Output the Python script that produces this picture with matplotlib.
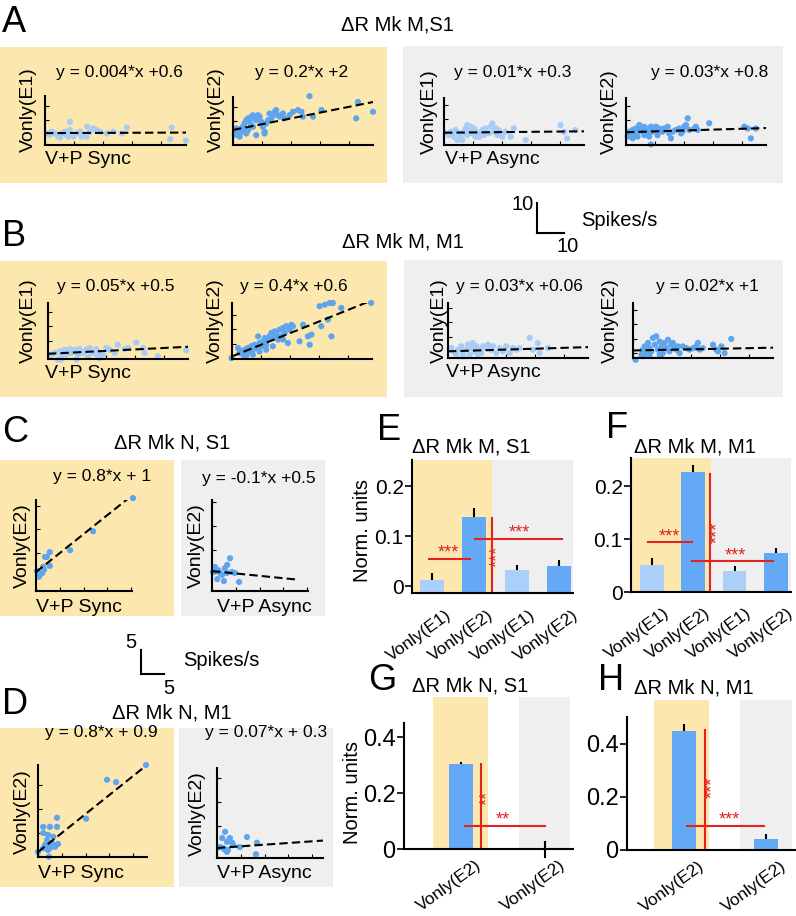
import numpy as np
import matplotlib.pyplot as plt
from matplotlib.patches import Rectangle
from matplotlib.lines import Line2D
from matplotlib.ticker import MultipleLocator
from matplotlib.transforms import ScaledTranslation

plt.rcParams['font.family'] = ['Liberation Sans', 'DejaVu Sans']

W, H = 796, 916
YELLOW = '#FCE8AE'
GREY = '#EFEFEF'
LIGHT = '#A8CCF5'
DARK = '#5EA5EE'
BAR_LIGHT = '#AAD0F9'
BAR_DARK = '#63A9F6'
RED = '#E3231F'

# ---- scatter data (spikes/s) ----
a1_x = [0.6, 1.7, 3.4, 4.6, 5.7, 6.9, 7.5, 8.6, 8.6, 9.8, 10.9, 12.1, 13.8, 14.6, 15.5, 16.7, 17.8, 19.0, 21.3, 23.6,
        26.4, 28.2, 14.4, 5.2, 43.7, 43.1, 48.6, 2.3, 12.6, 8.0]
a1_y = [0.5, 0.0, 0.5, -0.6, 0.5, 1.1, -0.1, 4.5, 1.7, -0.6, 0.5, 1.1, -0.1, 2.8, 1.1, 2.2, 1.7, 1.1, 0.5, 1.1,
        0.5, 2.5, -0.6, -0.9, 2.5, -1.5, -2.0, 1.1, -0.6, -0.6]
a2_x = [0.6, 1.1, 1.7, 2.3, 2.9, 3.4, 4.0, 4.6, 5.2, 5.7, 6.3, 6.9, 7.5, 8.0, 8.6, 9.2, 9.8, 10.3, 10.9, 11.5,
        12.1, 12.6, 13.2, 13.8, 14.4, 14.9, 15.5, 16.1, 17.2, 17.8, 19.5, 20.7, 22.4, 23.6, 24.1, 26.4, 27.6, 30.5,
        43.1, 42.5, 48.3, 2.3, 4.6, 6.9, 8.0, 10.9, 1.1, 3.4, 5.2, 6.3]
a2_y = [0.3, 1.4, 0.8, 2.0, 2.5, 3.1, 4.3, 5.4, 6.0, 4.8, 6.6, 7.1, 6.0, 5.4, 7.1, 6.6, 4.8, 3.1, 1.4, 4.3,
        5.4, 7.7, 6.0, 7.1, 8.3, 8.9, 7.1, 6.6, 7.7, 6.0, 7.1, 8.3, 8.9, 8.3, 6.6, 13.7, 6.6, 8.9,
        11.7, 6.0, 8.3, -0.3, 0.8, 3.1, 0.2, 0.8, 2.5, 1.4, 2.0, 3.7]
a3_x = [0.6, 1.7, 2.9, 3.4, 4.0, 5.2, 5.7, 6.3, 6.9, 7.5, 8.0, 8.0, 8.6, 9.2, 9.8, 10.3, 10.9, 12.1, 12.6, 13.2,
        13.8, 14.4, 15.5, 16.1, 16.7, 17.2, 17.8, 18.4, 19.0, 20.1, 21.3, 23.0, 24.1, 28.2, 40.2, 41.4, 42.5, 45.3,
        4.6, 2.3, 10.9]
a3_y = [0.1, -0.5, 0.6, -1.1, 1.2, 0.1, -1.1, -2.2, 0.6, 1.8, 2.9, -0.5, 0.6, 2.4, 0.1, 1.8, 0.6, -1.1, 0.1, 1.2,
        -0.5, 1.8, 0.1, 2.4, 3.5, 0.6, 1.8, -0.5, 1.2, -1.1, 0.6, -1.1, 1.8, -2.2, 2.9, 0.6, -1.7, 1.2,
        -2.2, 0.6, -1.1]
a4_x = [0.6, 1.1, 1.7, 2.3, 2.9, 3.4, 4.0, 4.6, 5.2, 5.7, 6.3, 6.9, 7.5, 8.0, 8.6, 8.6, 9.2, 9.8, 10.3, 10.9,
        11.5, 12.6, 13.2, 14.4, 14.9, 15.5, 16.1, 17.2, 18.4, 19.0, 19.5, 20.1, 20.7, 21.3, 21.8, 23.6, 24.1, 24.7,
        28.7, 40.8, 42.0, 43.1, 44.8, 2.3, 4.0, 6.3, 8.0]
a4_y = [-0.7, 1.0, 0.4, 1.6, -0.2, 2.1, 1.0, 3.3, 2.1, 1.0, 2.7, 1.6, 0.4, 2.1, -3.4, 2.7, 1.0, 1.6, 2.7, -0.2,
        2.1, 1.0, 2.1, 2.7, 0.4, -1.3, 1.0, 1.6, 2.1, 0.4, 1.0, 2.7, 3.3, 5.6, 1.6, 2.1, 2.7, 1.6,
        3.9, 2.7, 2.1, -1.3, 2.1, -1.3, -0.7, -0.2, -0.7]
b1_x = [1.1, 2.3, 3.4, 4.0, 4.6, 5.7, 6.3, 7.5, 8.0, 9.2, 10.3, 10.9, 12.1, 13.2, 14.4, 15.5, 16.7, 17.2, 17.8, 19.0,
        20.1, 21.3, 23.0, 24.1, 26.4, 27.6, 30.5, 32.8, 33.3, 37.9, 47.7, 4.6, 9.8, 17.8, 13.8]
b1_y = [0.2, 0.8, -1.5, 1.3, -0.4, 1.9, 0.2, 2.1, 0.8, 1.9, 0.2, 2.1, 0.8, 1.9, 2.5, 0.8, 2.1, -0.4, 0.8, 0.2,
        2.5, 1.9, 0.8, 3.6, 2.1, 2.5, 4.4, 2.5, 0.8, -0.4, 1.7, -1.5, -1.5, -1.0, -0.4]
b2_x = [-0.2, 2.1, 2.6, 3.2, 3.8, 4.4, 4.9, 5.5, 6.1, 6.7, 7.2, 7.8, 8.4, 9.0, 9.5, 10.1, 10.7, 11.3, 11.8, 12.4,
        13.0, 13.6, 14.1, 14.7, 15.3, 15.9, 16.4, 17.0, 17.6, 18.2, 18.7, 19.3, 19.9, 20.5, 21.0, 23.3, 24.5, 26.2,
        26.8, 27.4, 30.2, 30.8, 32.0, 33.1, 33.7, 34.3, 34.8, 37.7, 48.0, 4.9, 7.2, 9.5, 11.8, 14.1, 17.6]
b2_y = [0.0, 3.5, 1.8, 2.3, 1.2, 2.9, 1.8, 3.5, 2.3, 4.1, 2.9, 4.6, 3.5, 7.5, 5.2, 4.1, 5.8, 6.9, 4.6, 6.4,
        7.5, 8.7, 6.9, 9.2, 8.1, 6.4, 9.8, 7.5, 10.4, 8.7, 11.0, 5.2, 9.8, 11.5, 11.0, 5.8, 11.5, 7.5,
        4.6, 8.1, 17.9, 11.0, 18.4, 13.3, 19.0, 7.5, 19.0, 17.3, 19.0, 0.6, 1.2, 2.3, 2.9, 4.1, 6.4]
b3_x = [1.1, 2.3, 3.4, 4.6, 5.2, 6.3, 6.9, 7.5, 8.0, 8.6, 9.2, 9.8, 10.9, 11.5, 12.1, 13.2, 13.8, 14.9, 15.5, 16.7,
        17.8, 19.0, 20.1, 21.3, 22.4, 23.6, 24.7, 28.2, 29.3, 31.0, 31.6, 34.5, 2.9, 5.2, 10.3]
b3_y = [1.2, -0.5, 0.6, 1.8, -0.5, 0.6, 2.4, -1.1, 1.2, 2.9, 0.1, 1.8, 0.6, -0.5, 1.8, 1.2, 2.4, 0.6, 1.8, -0.5,
        1.2, 0.1, 1.8, -0.5, 1.2, 0.6, 1.2, 4.7, 0.6, 2.9, -0.5, 1.2, -1.1, -1.7, -1.1]
b4_x = [0.9, 2.9, 3.4, 4.0, 4.6, 5.2, 5.7, 6.3, 6.9, 7.5, 8.0, 8.6, 9.2, 9.8, 10.3, 10.9, 11.5, 12.1, 12.6, 13.2,
        13.8, 14.4, 14.9, 15.5, 16.1, 17.2, 18.4, 19.5, 20.7, 21.8, 22.4, 23.0, 24.1, 27.6, 28.7, 29.3, 30.5, 31.6,
        33.9, 3.4, 5.7, 9.2]
b4_y = [-2.2, -0.5, 1.3, 2.4, 0.1, 3.6, 1.8, 0.7, 5.3, 3.0, 5.9, 1.3, 4.1, 2.4, 0.1, 3.6, 1.8, 4.7, 0.7, 3.0,
        3.6, 1.8, 1.3, 2.4, 0.1, 2.4, 1.8, 1.3, 1.8, 2.4, 3.6, 1.3, 1.8, 3.0, 1.3, 0.7, 2.4, 0.1,
        5.0, -1.0, -0.8, -0.5]
c1_x = [0.2, 0.8, 0.6, 1.5, 1.9, 2.3, 2.9, 2.9, 7.2, 12.0, 20.4, 1.3, 1.7]
c1_y = [1.2, 0.4, 0.0, 2.1, 4.2, 4.2, 5.2, 2.3, 5.6, 9.6, 16.6, 0.8, 1.5]
c2_x = [0.6, 1.3, 1.7, 2.7, 3.2, 3.8, 3.2, 4.2, 4.8, 1.1, 2.5, 5.7, 0.2, 2.1]
c2_y = [1.4, 0.7, 0.1, 1.1, 1.8, 3.2, 0.1, 0.3, 0.1, -1.2, -1.6, -1.8, 0.3, -0.3]
d1_x = [0.0, 1.1, 2.5, 4.0, 1.1, 2.1, 3.2, 4.0, 1.9, 3.2, 4.2, 1.9, 2.5, 3.6, 1.5, 2.3, 2.9, 10.1, 14.5, 16.4,
        22.7, 1.1, 2.1]
d1_y = [0.9, 6.2, 6.2, 8.1, 4.9, 4.5, 4.1, 6.2, 3.4, 2.4, 2.6, 2.0, 1.7, 2.0, 2.4, -0.1, 2.8, 7.9, 16.1, 15.6,
        19.2, 1.7, 1.3]
d2_x = [1.7, 1.1, 2.1, 2.7, 3.2, 3.4, 4.8, 6.3, 8.4, 8.2, 1.3, 2.1, 2.3, 1.7, 0.6]
d2_y = [3.7, 2.4, 1.6, 2.4, 1.4, 0.9, 0.5, 2.6, 1.4, -1.0, 0.3, -0.5, -0.1, -0.1, 0.5]

# fitted lines (slope, intercept) and their printed equations
fits = [(0.004, 0.6), (0.2, 2), (0.01, 0.3), (0.03, 0.8),
        (0.05, 0.5), (0.4, 0.6), (0.03, 0.06), (0.02, 1),
        (0.8, 1), (-0.1, 0.5), (0.8, 0.9), (0.07, 0.3)]
equations = ['y = 0.004*x +0.6', 'y = 0.2*x +2', 'y = 0.01*x +0.3', 'y = 0.03*x +0.8',
             'y = 0.05*x +0.5', 'y = 0.4*x +0.6', 'y = 0.03*x +0.06', 'y = 0.02*x +1',
             'y = 0.8*x + 1', 'y = -0.1*x +0.5', 'y = 0.8*x + 0.9', 'y = 0.07*x + 0.3']

# ---- bar data (normalized units) ----
e_labels = ['Vonly(E1)', 'Vonly(E2)', 'Vonly(E1)', 'Vonly(E2)']
e_vals = [0.012, 0.139, 0.033, 0.040]
e_err = [0.015, 0.018, 0.010, 0.013]
f_vals = [0.051, 0.226, 0.040, 0.074]
f_err = [0.013, 0.014, 0.009, 0.010]
g_labels = ['Vonly(E2)', 'Vonly(E2)']
g_vals = [0.304, -0.003]
g_err = [0.007, 0.030]
h_vals = [0.447, 0.042]
h_err = [0.025, 0.020]

fig = plt.figure(figsize=(W / 100, H / 100), dpi=100)


def box(l, t, r, b):
    return [l / W, 1 - b / H, (r - l) / W, (b - t) / H]


def ftext(x, y, s, **kw):
    kw.setdefault('va', 'center')
    fig.text(x / W, 1 - y / H, s, **kw)


def bg(l, t, r, b, color):
    fig.add_artist(Rectangle((l / W, 1 - b / H), (r - l) / W, (b - t) / H, transform=fig.transFigure,
                             facecolor=color, edgecolor='none', zorder=0))


def fline(x0, y0, x1, y1):
    fig.add_artist(Line2D([x0 / W, x1 / W], [1 - y0 / H, 1 - y1 / H], transform=fig.transFigure,
                          color='black', lw=1.5))


def scatter_panel(rect, x, y, fit, xlim, ylim, xfit, color, step):
    ax = fig.add_axes(box(*rect))
    ax.patch.set_visible(False)
    ax.scatter(x, y, s=20, color=color, edgecolors='none', clip_on=False, zorder=2)
    xs = np.array([0, xfit])
    ax.plot(xs, fit[0] * xs + fit[1], color='black', lw=1.5, dashes=(4, 2), zorder=3)
    ax.set_xlim(xlim)
    ax.set_ylim(ylim)
    for s in ['top', 'right']:
        ax.spines[s].set_visible(False)
    for s in ['left', 'bottom']:
        ax.spines[s].set_linewidth(1.5)
    ax.xaxis.set_major_locator(MultipleLocator(step[0]))
    ax.yaxis.set_major_locator(MultipleLocator(step[1]))
    ax.tick_params(direction='in', length=3, width=0.8, labelbottom=False, labelleft=False)
    return ax


# ---- backgrounds ----
bg(0, 47, 387, 183, YELLOW)
bg(403, 46, 783, 183, GREY)
bg(0, 261, 387, 397, YELLOW)
bg(404, 260, 783, 397, GREY)
bg(0, 460, 174, 616, YELLOW)
bg(181, 460, 325, 616, GREY)
bg(0, 728, 174, 887, YELLOW)
bg(179, 728, 333, 887, GREY)

# ---- scatter panels ----
sc_rects = [(45, 96, 186, 145), (233, 97, 373, 145), (444, 98, 584, 145), (626, 98, 766, 145),
            (48, 303, 188, 359), (232, 303, 372, 359), (448, 303, 588, 358), (633, 303, 773, 358),
            (36, 500, 132, 591), (212, 500, 308, 591), (38, 765, 147, 857), (217, 768, 323, 858)]
sc_data = [(a1_x, a1_y), (a2_x, a2_y), (a3_x, a3_y), (a4_x, a4_y),
           (b1_x, b1_y), (b2_x, b2_y), (b3_x, b3_y), (b4_x, b4_y),
           (c1_x, c1_y), (c2_x, c2_y), (d1_x, d1_y), (d2_x, d2_y)]
sc_xlim = [(0, 48.6), (0, 48.3), (0, 48.3), (0, 48.3),
           (0, 48.3), (0, 48.3), (0, 48.3), (0, 48.3),
           (0, 20.2), (0, 20.2), (0, 22.9), (0, 22.3)]
sc_ylim = [(-3.5, 13.4), (-3.2, 13.4), (-3.95, 12.3), (-3.6, 12.6),
           (-1.3, 18.0), (-0.3, 19.0), (-2.24, 16.7), (-1.6, 17.4),
           (-3.0, 16.2), (-3.7, 15.5), (-0.15, 19.2), (-1.8, 17.1)]
sc_xfit = [48.6, 48.3, 48.3, 48.3, 48.3, 47.6, 48.3, 48.3, 20.4, 17.9, 21.9, 22.3]
sc_color = [LIGHT, DARK, LIGHT, DARK, LIGHT, DARK, LIGHT, DARK, DARK, DARK, DARK, DARK]
eq_pos = [(56, 72), (255, 72), (454, 73), (651, 73), (57, 287), (240, 287), (456, 287), (656, 287),
          (53, 477), (202, 478), (45, 733), (205, 733)]

for i in range(12):
    step = (10, 5) if i < 8 else (5, 5)
    scatter_panel(sc_rects[i], sc_data[i][0], sc_data[i][1], fits[i], sc_xlim[i], sc_ylim[i],
                  sc_xfit[i], sc_color[i], step)
    ftext(eq_pos[i][0], eq_pos[i][1], equations[i], fontsize=12.5, ha='left')

# axis labels for scatter panels
ylab_pos = [(28, 110, 'Vonly(E1)'), (216, 110, 'Vonly(E2)'), (429, 112, 'Vonly(E1)'), (609, 112, 'Vonly(E2)'),
            (28, 321, 'Vonly(E1)'), (215, 321, 'Vonly(E2)'), (439, 321, 'Vonly(E1)'), (610, 321, 'Vonly(E2)'),
            (22, 546, 'Vonly(E2)'), (196, 546, 'Vonly(E2)'), (22, 812, 'Vonly(E2)'), (197, 814, 'Vonly(E2)')]
for x, y, s in ylab_pos:
    ftext(x, y, s, fontsize=14, rotation=90, ha='center')
xlab_pos = [(45, 160, 'V+P Sync'), (445, 160, 'V+P Async'), (45, 374, 'V+P Sync'), (446, 373, 'V+P Async'),
            (36, 607, 'V+P Sync'), (217, 607, 'V+P Async'), (38, 874, 'V+P Sync'), (217, 874, 'V+P Async')]
for x, y, s in xlab_pos:
    ftext(x, y, s, fontsize=14, ha='left')

# titles and panel letters
ftext(397, 25, 'ΔR Mk M,S1', fontsize=14.5, ha='center')
ftext(403, 242, 'ΔR Mk M, M1', fontsize=14.5, ha='center')
ftext(172, 443, 'ΔR Mk N, S1', fontsize=14.5, ha='center')
ftext(172, 713, 'ΔR Mk N, M1', fontsize=14.5, ha='center')
ftext(412, 447, 'ΔR Mk M, S1', fontsize=14.5, ha='left')
ftext(634, 447, 'ΔR Mk M, M1', fontsize=14.5, ha='left')
ftext(412, 686, 'ΔR Mk N, S1', fontsize=14.5, ha='left')
ftext(634, 688, 'ΔR Mk N, M1', fontsize=14.5, ha='left')
for x, y, s in [(2, 22, 'A'), (2, 237, 'B'), (2, 433, 'C'), (2, 705, 'D'),
                (377, 430, 'E'), (606, 428, 'F'), (368, 680, 'G'), (598, 680, 'H')]:
    ftext(x, y, s, fontsize=26, ha='left')

# scale bars
fline(537, 203, 537, 233)
fline(537, 233, 564, 233)
ftext(534, 205, '10', fontsize=14.5, ha='right')
ftext(556, 247, '10', fontsize=14.5, ha='left')
ftext(581, 220, 'Spikes/s', fontsize=14.5, ha='left')
fline(141, 650, 141, 674)
fline(141, 674, 164, 674)
ftext(136, 643, '5', fontsize=14.5, ha='right')
ftext(163, 688, '5', fontsize=14.5, ha='left')
ftext(183, 660, 'Spikes/s', fontsize=14.5, ha='left')

ftext(362, 531, 'Norm. units', fontsize=14.5, rotation=90, ha='center')
ftext(352, 792, 'Norm. units', fontsize=14.5, rotation=90, ha='center')


def bar_panel(rect, vals, errs, labels, colors, xlim, ylim, base, ticks, fs, spans, bg_top, width, lab_off):
    ax = fig.add_axes(box(*rect))
    ax.patch.set_visible(False)
    (y0, y1), (g0, g1) = spans
    ax.add_patch(Rectangle((y0, base), y1 - y0, bg_top - base, facecolor=YELLOW, edgecolor='none',
                           clip_on=False, zorder=0))
    ax.add_patch(Rectangle((g0, base), g1 - g0, bg_top - base, facecolor=GREY, edgecolor='none',
                           clip_on=False, zorder=0))
    x = np.arange(len(vals))
    eb = ax.errorbar(x, vals, yerr=errs, fmt='none', ecolor='black', elinewidth=1.5, capsize=0, zorder=1)
    for c in eb[2]:
        c.set_clip_on(False)
    ax.bar(x, np.array(vals) - base, bottom=base, width=width, color=colors, zorder=2)
    ax.set_xlim(xlim)
    ax.set_ylim(ylim)
    for s in ['top', 'right']:
        ax.spines[s].set_visible(False)
    for s in ['left', 'bottom']:
        ax.spines[s].set_linewidth(1.5)
        ax.spines[s].set_zorder(4)
    ax.set_yticks(ticks)
    ax.set_yticklabels(['0' if t == 0 else f'{t:g}' for t in ticks])
    ax.tick_params(axis='y', direction='out', length=5, width=1.2, labelsize=fs, pad=1)
    ax.set_xticks(x)
    ax.set_xticklabels(labels, rotation=36, ha='right', va='top', rotation_mode='anchor', fontsize=12.5)
    ax.tick_params(axis='x', length=0, pad=0)
    off = ScaledTranslation(lab_off[0] / 100, -lab_off[1] / 100, fig.dpi_scale_trans)
    for lab in ax.get_xticklabels():
        lab.set_transform(lab.get_transform() + off)
    return ax


def sig(ax, hsegs, vsegs):
    for x0, x1, y, xs, stars in hsegs:
        ax.plot([x0, x1], [y, y], color=RED, lw=1.5, zorder=3, clip_on=False)
        ax.annotate(stars, (xs, y), xytext=(0, 4), textcoords='offset points', ha='center', va='center',
                    color=RED, fontsize=13)
    for x, ya, yb, xs, ys, stars in vsegs:
        ax.plot([x, x], [ya, yb], color=RED, lw=1.5, zorder=3, clip_on=False)
        ax.text(xs, ys, stars, rotation=90, ha='center', va='center', color=RED, fontsize=13)


cols4 = [BAR_LIGHT, BAR_DARK, BAR_LIGHT, BAR_DARK]
axE = bar_panel((412, 460, 573, 593), e_vals, e_err, e_labels, cols4, (-0.47, 3.33), (-0.014, 0.252), -0.014,
                [0, 0.1, 0.2], 15, ((-0.47, 1.42), (1.42, 3.33)), 0.252, 0.57, (13, 14))
sig(axE, [(-0.07, 0.9, 0.055, 0.4, '***'), (1.02, 3.07, 0.095, 2.06, '***')],
    [(1.42, -0.014, 0.136, 1.56, 0.06, '***')])
axF = bar_panel((631, 458, 791, 592), f_vals, f_err, e_labels, cols4, (-0.51, 3.37), (0, 0.253), 0,
                [0, 0.1, 0.2], 15, ((-0.51, 1.43), (1.43, 3.37)), 0.253, 0.58, (11, 13))
sig(axF, [(-0.1, 0.97, 0.094, 0.41, '***'), (0.97, 2.94, 0.058, 2.01, '***')],
    [(1.40, 0.002, 0.223, 1.58, 0.113, '***')])
axG = bar_panel((404, 723, 573, 849), g_vals, g_err, g_labels, [BAR_DARK, BAR_DARK], (-0.68, 1.33), (0, 0.451), 0,
                [0, 0.2, 0.4], 17, ((-0.33, 0.32), (0.69, 1.30)), 0.544, 0.29, (14, 8))
sig(axG, [(0.04, 1.0, 0.084, 0.49, '**')], [(0.235, 0, 0.304, 0.31, 0.183, '**')])
axH = bar_panel((627, 717, 796, 850), h_vals, h_err, g_labels, [BAR_DARK, BAR_DARK], (-0.70, 1.37), (0, 0.5), 0,
                [0, 0.2, 0.4], 17, ((-0.37, 0.31), (0.69, 1.32)), 0.5625, 0.30, (14, 8))
sig(axH, [(0.04, 0.98, 0.091, 0.56, '***')], [(0.26, 0, 0.452, 0.35, 0.236, '***')])

fig.savefig('out.png', dpi=100)
